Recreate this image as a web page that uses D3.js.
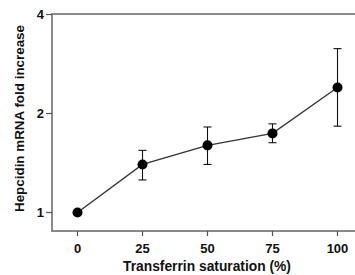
<!DOCTYPE html>
<html>
<head>
<meta charset="utf-8">
<script src="https://d3js.org/d3.v7.min.js"></script>
<style>
  body { margin: 0; background: #fff; }
  text { font-family: "Liberation Sans", Arial, sans-serif; font-weight: bold; fill: #111; }
</style>
</head>
<body>
<script>
// data
var saturation = [0, 25, 50, 75, 100];
var foldMean   = [1.00, 1.40, 1.60, 1.74, 2.40];
var foldUpper  = [1.00, 1.545, 1.82, 1.86, 3.15];
var foldLower  = [1.00, 1.256, 1.40, 1.63, 1.83];
var xTicks = [0, 25, 50, 75, 100];
var yTicks = [1, 2, 4];

var width = 355, height = 275;
var frameL = 52, frameT = 14, frameB = 231, frameR = 355;

var svg = d3.select("body").append("svg")
  .attr("width", width)
  .attr("height", height);

var x = d3.scaleLinear().domain([0, 100]).range([77.5, 337.5]);
var y = d3.scaleLog().base(2).domain([1, 4]).range([212.5, 14.5]);

// frame: left, top and bottom lines
svg.append("path")
  .attr("d", `M ${frameR} ${frameT} L ${frameL} ${frameT} L ${frameL} ${frameB} L ${frameR} ${frameB}`)
  .attr("fill", "none")
  .attr("stroke", "#8a8a8a")
  .attr("stroke-width", 2);

// y ticks
var yAxis = svg.append("g");
yAxis.selectAll("line").data(yTicks).enter().append("line")
  .attr("x1", frameL - 6).attr("x2", frameL)
  .attr("y1", d => y(d)).attr("y2", d => y(d))
  .attr("stroke", "#555").attr("stroke-width", 1.2);
yAxis.selectAll("text").data(yTicks).enter().append("text")
  .attr("x", frameL - 8)
  .attr("y", d => y(d))
  .attr("dy", "0.36em")
  .attr("text-anchor", "end")
  .style("font-size", "13px")
  .text(d => d);

// x ticks
var xAxis = svg.append("g");
xAxis.selectAll("line").data(xTicks).enter().append("line")
  .attr("x1", d => x(d)).attr("x2", d => x(d))
  .attr("y1", frameB).attr("y2", frameB + 5)
  .attr("stroke", "#555").attr("stroke-width", 1.2);
xAxis.selectAll("text").data(xTicks).enter().append("text")
  .attr("x", d => x(d))
  .attr("y", 252.5)
  .attr("text-anchor", "middle")
  .style("font-size", "13px")
  .text(d => d);

// axis titles
svg.append("text")
  .attr("x", 207).attr("y", 270.5)
  .attr("text-anchor", "middle")
  .style("font-size", "13.8px")
  .text("Transferrin saturation (%)");

svg.append("text")
  .attr("transform", "translate(24,118.5) rotate(-90)")
  .attr("text-anchor", "middle")
  .style("font-size", "13.4px")
  .text("Hepcidin mRNA fold increase");

var rows = saturation.map((s, i) => ({s: s, m: foldMean[i], hi: foldUpper[i], lo: foldLower[i]}));

// error bars
var err = svg.append("g").attr("stroke", "#111").attr("stroke-width", 1.1);
rows.filter(d => d.hi > d.m).forEach(function(d) {
  err.append("line").attr("x1", x(d.s)).attr("x2", x(d.s)).attr("y1", y(d.hi)).attr("y2", y(d.lo));
  err.append("line").attr("x1", x(d.s) - 4).attr("x2", x(d.s) + 4).attr("y1", y(d.hi)).attr("y2", y(d.hi));
  err.append("line").attr("x1", x(d.s) - 4).attr("x2", x(d.s) + 4).attr("y1", y(d.lo)).attr("y2", y(d.lo));
});

// connecting line
svg.append("path")
  .datum(rows)
  .attr("fill", "none")
  .attr("stroke", "#333")
  .attr("stroke-width", 1.3)
  .attr("d", d3.line().x(d => x(d.s)).y(d => y(d.m)));

// points
svg.selectAll("circle").data(rows).enter().append("circle")
  .attr("cx", d => x(d.s))
  .attr("cy", d => y(d.m))
  .attr("r", 5)
  .attr("fill", "#000");
</script>
</body>
</html>
